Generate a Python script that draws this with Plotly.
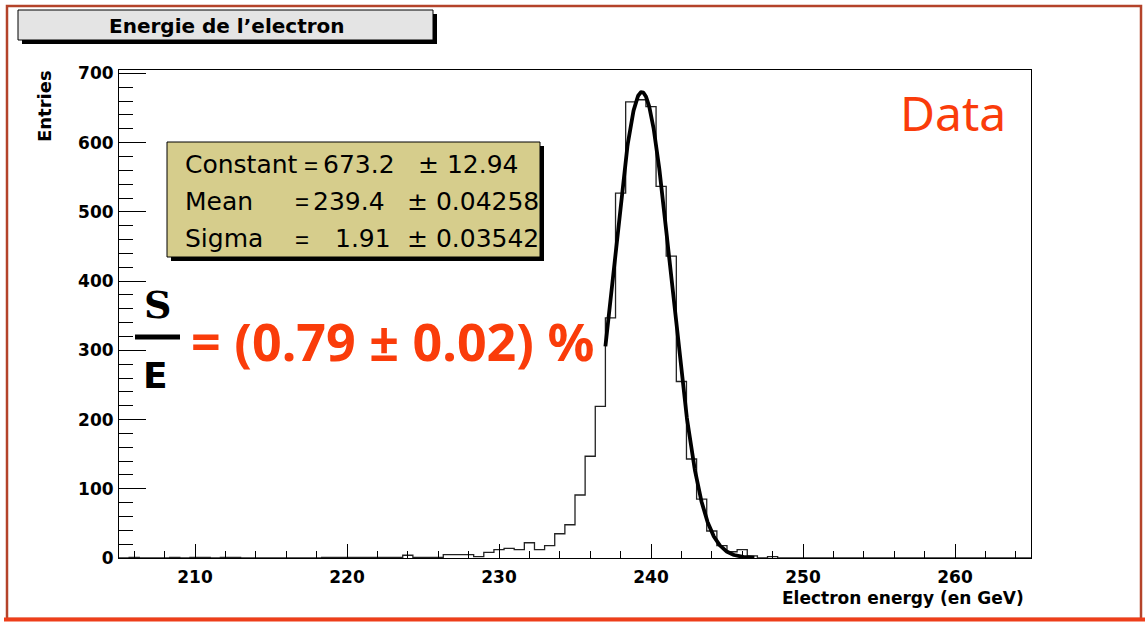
import numpy as np
import plotly.graph_objects as go

# ---------------- data ----------------
x_low, x_high = 205.0, 265.0
n_bins = 90
counts = [
    0, 1, 0, 0, 0, 1, 0, 1, 1, 0,
    1, 1, 0, 0, 0, 0, 0, 0, 0, 0,
    1, 1, 1, 1, 1, 1, 1, 1, 4, 1,
    1, 1, 5, 5, 5, 2, 8, 12, 14, 12,
    22, 12, 18, 35, 48, 91, 147, 219, 347, 527,
    659, 662, 652, 537, 436, 255, 143, 85, 39, 18,
    9, 12, 3, 0, 2, 0, 0, 0, 0, 0,
    0, 0, 0, 0, 0, 0, 0, 0, 0, 0,
    0, 0, 0, 0, 0, 0, 0, 0, 0, 0,
]
fit_const, fit_mean, fit_sigma = 673.2, 239.4, 1.91
fit_range = [237.0, 246.8]
x_tick_vals = [210, 220, 230, 240, 250, 260]
y_tick_vals = [0, 100, 200, 300, 400, 500, 600, 700]
stats_names = ["Constant", "Mean", "Sigma"]
stats_values = ["673.2", "239.4", "1.91"]
stats_errors = ["± 12.94", "± 0.04258", "± 0.03542"]

# ---------------- geometry helpers ----------------
FW, FH = 1145, 622
L, R, T, B = 119, 1031, 70, 558
PW, PH = R - L, B - T


def X(px):
    return (px - L) / PW


def Y(py):
    return (B - py) / PH


edges = np.linspace(x_low, x_high, n_bins + 1)
step_x = list(edges[:-1]) + [edges[-1]]
step_y = list(counts) + [counts[-1]]

fx = np.linspace(fit_range[0], fit_range[1], 400)
fy = fit_const * np.exp(-0.5 * ((fx - fit_mean) / fit_sigma) ** 2)

fig = go.Figure()
fig.add_trace(go.Scatter(x=step_x, y=step_y, mode="lines", line_shape="hv",
                         line=dict(color="#222222", width=1.3), hoverinfo="skip",
                         showlegend=False))
fig.add_trace(go.Scatter(x=fx, y=fy, mode="lines",
                         line=dict(color="black", width=3.8), hoverinfo="skip",
                         showlegend=False))

tickfont = dict(family="DejaVu Sans", size=17, color="black", weight="bold")

fig.update_layout(
    width=FW, height=FH, autosize=False,
    margin=dict(l=L, r=FW - R, t=T, b=FH - B, pad=0),
    paper_bgcolor="white", plot_bgcolor="white",
    showlegend=False,
    xaxis=dict(range=[x_low, x_high], showgrid=False, zeroline=False,
               showline=True, linecolor="black", linewidth=1, mirror=True,
               ticks="inside", ticklen=14, tickwidth=1, tickcolor="black",
               tickmode="array", tickvals=x_tick_vals,
               minor=dict(dtick=2, tick0=204, ticklen=7, ticks="inside",
                          tickcolor="black", tickwidth=1, showgrid=False),
               tickfont=tickfont, ticklabelstandoff=4),
    yaxis=dict(range=[0, 705], showgrid=False, zeroline=False,
               showline=True, linecolor="black", linewidth=1, mirror=True,
               ticks="inside", ticklen=27, tickwidth=1, tickcolor="black",
               tickmode="array", tickvals=y_tick_vals,
               minor=dict(dtick=20, tick0=0, ticklen=13.5, ticks="inside",
                          tickcolor="black", tickwidth=1, showgrid=False),
               tickfont=tickfont, ticklabelstandoff=1),
)

shapes = []
# outer border
shapes.append(dict(type="rect", xref="paper", yref="paper",
                   x0=X(7), x1=X(1141), y0=Y(6), y1=Y(619),
                   line=dict(color="#b4432a", width=2.5), fillcolor="rgba(0,0,0,0)"))
shapes.append(dict(type="line", xref="paper", yref="paper",
                   x0=X(4), x1=X(1145), y0=Y(619.5), y1=Y(619.5),
                   line=dict(color="#ee3e1a", width=4)))
# title box with shadow
shapes.append(dict(type="rect", xref="paper", yref="paper",
                   x0=X(22), x1=X(437), y0=Y(14), y1=Y(44),
                   line=dict(width=0), fillcolor="black"))
shapes.append(dict(type="rect", xref="paper", yref="paper",
                   x0=X(18), x1=X(433), y0=Y(10), y1=Y(40),
                   line=dict(color="black", width=1), fillcolor="#e4e4e4"))
# stats box with shadow
shapes.append(dict(type="rect", xref="paper", yref="paper",
                   x0=X(171), x1=X(544), y0=Y(146), y1=Y(261),
                   line=dict(width=0), fillcolor="black"))
shapes.append(dict(type="rect", xref="paper", yref="paper",
                   x0=X(167), x1=X(540), y0=Y(142), y1=Y(257),
                   line=dict(color="black", width=1), fillcolor="#d6cd8c"))
# fraction bar
shapes.append(dict(type="line", xref="paper", yref="paper",
                   x0=X(135), x1=X(180), y0=Y(337), y1=Y(337),
                   line=dict(color="black", width=5)))
fig.update_layout(shapes=shapes)

ann = []


def add_text(text, px, py, size, family="DejaVu Sans", weight="normal",
             color="black", xanchor="left", angle=0):
    ann.append(dict(text=text, x=X(px), y=Y(py), xref="paper", yref="paper",
                    xanchor=xanchor, yanchor="middle", showarrow=False,
                    textangle=angle,
                    font=dict(family=family, size=size, color=color, weight=weight)))


add_text("Energie de l’electron", 227, 26, 20, weight="bold", xanchor="center")
add_text("Entries", 45, 106, 18, weight="bold", xanchor="center", angle=-90)
add_text("Electron energy (en GeV)", 1026, 598, 17, weight="bold", xanchor="right")

rows_y = [164, 201, 238]
eq_x = [302, 293, 293]
val_x = [321, 311, 333]
err_x = [416, 405, 405]
for i in range(3):
    add_text(stats_names[i], 183, rows_y[i], 25)
    add_text("=", eq_x[i], rows_y[i] + 1, 24, family="Liberation Sans")
    add_text(stats_values[i], val_x[i], rows_y[i], 25)
    add_text(stats_errors[i], err_x[i], rows_y[i], 25)

red = "#fa3c0a"
add_text("Data", 953, 112, 48, family="Noto Sans", color=red, xanchor="center")
add_text("S", 157, 304, 38, family="DejaVu Serif", weight="bold", xanchor="center")
add_text("E", 155, 375, 36, family="DejaVu Sans", weight="bold", xanchor="center")
add_text("= (0.79 ± 0.02) %", 189, 340, 52, family="Noto Sans", weight="bold",
         color=red, xanchor="left")

fig.update_layout(annotations=ann)

fig.write_html(
    "out.html",
    config={"displayModeBar": False},
    post_script="document.body.style.margin='0px';document.body.style.overflow='hidden';",
)
